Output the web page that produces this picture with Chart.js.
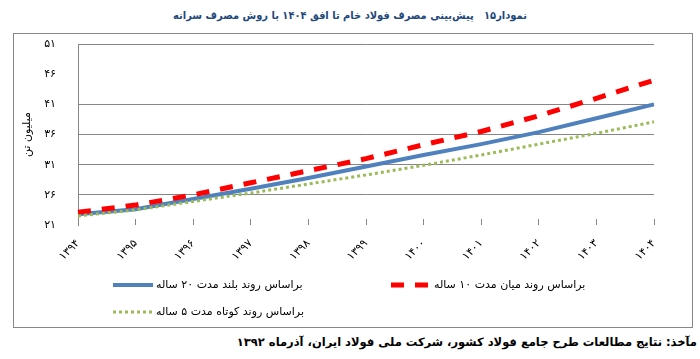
<!DOCTYPE html>
<html>
<head>
<meta charset="utf-8">
<script src="https://cdn.jsdelivr.net/npm/chart.js@4.4.1/dist/chart.umd.min.js"></script>
<style>
  html, body { margin: 0; padding: 0; background: #fff; }
  body { width: 700px; height: 359px; position: relative; overflow: hidden; font-family: "DejaVu Sans", sans-serif; }
  #title { position: absolute; left: 0; top: 9px; width: 700px; text-align: center; font-family: "DejaVu Sans Condensed", "DejaVu Sans", sans-serif; font-weight: bold; font-size: 11px; color: #1F497D; direction: rtl; white-space: pre; }
  #frame { position: absolute; left: 13px; top: 33px; width: 678px; height: 293px; border: 1px solid #868686; }
  #frame canvas { display: block; }
  #source { position: absolute; right: 3px; top: 335px; font-size: 11.5px; font-weight: bold; color: #000; direction: rtl; white-space: nowrap; }
</style>
</head>
<body>
<div id="title">نمودار۱۵   پیش‌بینی مصرف فولاد خام تا افق ۱۴۰۴ با روش مصرف سرانه</div>
<div id="frame"><canvas id="steelChart" width="678" height="293"></canvas></div>
<div id="source">مآخذ: نتایج مطالعات طرح جامع فولاد کشور، شرکت ملی فولاد ایران، آذرماه ۱۳۹۲</div>
<script>
// years on the x axis (solar hijri)
const years = ["۱۳۹۴", "۱۳۹۵", "۱۳۹۶", "۱۳۹۷", "۱۳۹۸", "۱۳۹۹", "۱۴۰۰", "۱۴۰۱", "۱۴۰۲", "۱۴۰۳", "۱۴۰۴"];

// crude steel consumption, million tonnes
const longTerm = [22.8, 23.6, 25.3, 27.0, 28.8, 30.7, 32.6, 34.4, 36.4, 38.7, 41.0];  // 20 year trend
const midTerm = [23.1, 24.3, 26.0, 28.0, 30.0, 32.0, 34.3, 36.5, 39.1, 42.0, 45.0];   // 10 year trend
const shortTerm = [22.5, 23.5, 24.9, 26.3, 27.8, 29.3, 30.9, 32.6, 34.4, 36.2, 38.1]; // 5 year trend

const seriesNames = [
  "براساس روند بلند مدت ۲۰ ساله",
  "براساس روند میان مدت ۱۰ ساله",
  "براساس روند کوتاه مدت ۵ ساله",
];

const yTicks = [21, 26, 31, 36, 41, 46, 51];

const FONT = "DejaVu Sans";
const faDigits = "۰۱۲۳۴۵۶۷۸۹";
function toFa(n) {
  return String(n).replace(/[0-9]/g, (d) => faDigits[+d]);
}

// legend drawn in two columns like the original (slot = x, y in canvas px)
const legendSlots = [[99, 251], [377, 251], [99, 278]];
const gridLegend = {
  id: "gridLegend",
  afterDraw(chart) {
    const ctx = chart.ctx;
    chart.data.datasets.forEach((ds, i) => {
      const [x, y] = legendSlots[i];
      ctx.save();
      ctx.strokeStyle = ds.borderColor;
      ctx.lineWidth = ds.borderWidth;
      ctx.setLineDash(ds.borderDash || []);
      ctx.beginPath();
      ctx.moveTo(x, y);
      ctx.lineTo(x + 40, y);
      ctx.stroke();
      ctx.setLineDash([]);
      ctx.fillStyle = "#000";
      ctx.font = "11px '" + FONT + "'";
      ctx.direction = "rtl";
      ctx.textAlign = "left";
      ctx.textBaseline = "middle";
      ctx.fillText(ds.label, x + 43, y);
      ctx.restore();
    });
  },
};

new Chart(document.getElementById("steelChart").getContext("2d"), {
  type: "line",
  data: {
    labels: years,
    datasets: [
      {
        label: seriesNames[0],
        data: longTerm,
        borderColor: "#4F81BD",
        borderWidth: 4,
        order: 3,
      },
      {
        label: seriesNames[1],
        data: midTerm,
        borderColor: "#FF0000",
        borderWidth: 5,
        borderDash: [13, 11],
        order: 2,
      },
      {
        label: seriesNames[2],
        data: shortTerm,
        borderColor: "#9BBB59",
        borderWidth: 3,
        borderDash: [3, 3],
        order: 1,
      },
    ],
  },
  options: {
    responsive: false,
    animation: false,
    layout: { padding: { left: 1, top: 10, right: 38, bottom: 62 } },
    elements: {
      point: { radius: 0 },
      line: { tension: 0, borderCapStyle: "butt" },
    },
    plugins: {
      legend: { display: false },
      tooltip: { enabled: false },
    },
    scales: {
      x: {
        offset: false,
        ticks: {
          autoSkip: false,
          minRotation: 45,
          maxRotation: 45,
          padding: 18,
          color: "#000",
          font: { family: FONT, size: 11 },
        },
        grid: { drawOnChartArea: false, drawTicks: true, tickLength: -6, color: "#868686" },
        border: { display: false },
        afterFit: (s) => { s.height = 40; },
      },
      y: {
        min: 21,
        max: 51,
        afterBuildTicks: (s) => { s.ticks = yTicks.map((v) => ({ value: v })); },
        ticks: {
          padding: 22,
          color: "#000",
          font: { family: FONT, size: 11 },
          callback: (v) => toFa(v),
        },
        grid: {
          drawTicks: false,
          // the 21 and 46 lines are not drawn in the original
          color: (c) => (c.tick && (c.tick.value === 46 || c.tick.value === 21)) ? "rgba(0,0,0,0)" : "#868686",
        },
        border: { display: true, color: "#868686" },
        title: {
          display: true,
          text: "میلیون تن",
          color: "#000",
          font: { family: FONT, size: 11 },
          padding: { top: 6, bottom: 0 },
        },
        afterFit: (s) => {
          s.width = 63;
          // the large tick padding should not push the plot down
          s.paddingTop = 7;
          s.paddingBottom = 7;
        },
      },
    },
  },
  plugins: [gridLegend],
});
</script>
</body>
</html>
